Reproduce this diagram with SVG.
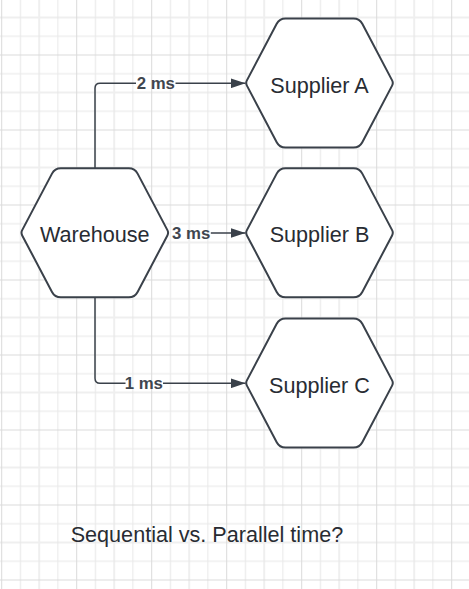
<svg xmlns="http://www.w3.org/2000/svg" width="469" height="589" viewBox="0 0 469 589">
  <style>
    .hex { fill: #ffffff; stroke: #3a414a; stroke-width: 2; stroke-linejoin: round; }
    .node-text { font-family: "Liberation Sans", Arial, sans-serif; font-size: 21.6px; fill: #282c33; text-anchor: middle; }
    .edge { fill: none; stroke: #3a414a; stroke-width: 1.5; }
    .edge-label { font-family: "Liberation Sans", Arial, sans-serif; font-size: 16.8px; font-weight: bold; fill: #3f464f; text-anchor: middle; }
    .title { font-family: "Liberation Sans", Arial, sans-serif; font-size: 21.6px; fill: #282c33; }
  </style>
  <defs>
    <pattern id="grid" x="1.2" y="54.5" width="75" height="75" patternUnits="userSpaceOnUse">
      <rect x="0" y="37" width="75" height="2" fill="#efefef"/>
      <rect x="37" y="0" width="2" height="75" fill="#efefef"/>
      <rect x="0" y="18.75" width="75" height="1" fill="#e8e8e8"/>
      <rect x="0" y="56.25" width="75" height="1" fill="#e8e8e8"/>
      <rect x="18.75" y="0" width="1" height="75" fill="#e8e8e8"/>
      <rect x="56.25" y="0" width="1" height="75" fill="#e8e8e8"/>
      <rect x="0" y="0" width="75" height="1" fill="#dadada"/>
      <rect x="0" y="0" width="1" height="75" fill="#dadada"/>
    </pattern>
    <path id="hexshape" d="M -72.6,-2.65 L -42.8,-59.19 Q -40,-64.5 -34,-64.5 L 34,-64.5 Q 40,-64.5 42.8,-59.19 L 72.6,-2.65 Q 74,0 72.6,2.65 L 42.8,59.19 Q 40,64.5 34,64.5 L -34,64.5 Q -40,64.5 -42.8,59.19 L -72.6,2.65 Q -74,0 -72.6,-2.65 Z"/>
    <marker id="arrow" markerUnits="userSpaceOnUse" markerWidth="15" markerHeight="10" refX="15" refY="5" orient="auto">
      <path d="M0,0 L15,5 L0,10 Z" fill="#3a414a"/>
    </marker>
  </defs>

  <rect x="0" y="0" width="469" height="589" fill="#ffffff"/>
  <rect x="0" y="0" width="469" height="589" fill="url(#grid)"/>

  <g id="connectors">
    <g id="edge-a">
      <path class="edge" d="M95,168.3 V88.3 Q95,83.3 100,83.3 H136"/>
      <path class="edge" d="M175.5,83.3 H245.5" marker-end="url(#arrow)"/>
      <text class="edge-label" x="155.8" y="89.3">2 ms</text>
    </g>
    <g id="edge-b">
      <path class="edge" d="M210.8,233 H245.5" marker-end="url(#arrow)"/>
      <text class="edge-label" x="191.2" y="239">3 ms</text>
    </g>
    <g id="edge-c">
      <path class="edge" d="M95,297.3 V378.3 Q95,383.3 100,383.3 H125.5"/>
      <path class="edge" d="M163,383.3 H245.5" marker-end="url(#arrow)"/>
      <text class="edge-label" x="143.8" y="389.3">1 ms</text>
    </g>
  </g>

  <g id="warehouse">
    <use href="#hexshape" class="hex" transform="translate(94.8,232.8)"/>
    <text class="node-text" x="94.8" y="241.5">Warehouse</text>
  </g>
  <g id="supplier-a">
    <use href="#hexshape" class="hex" transform="translate(319.5,83)"/>
    <text class="node-text" x="319.5" y="92.5">Supplier A</text>
  </g>
  <g id="supplier-b">
    <use href="#hexshape" class="hex" transform="translate(319.5,232.8)"/>
    <text class="node-text" x="319.5" y="241.5">Supplier B</text>
  </g>
  <g id="supplier-c">
    <use href="#hexshape" class="hex" transform="translate(319.5,383)"/>
    <text class="node-text" x="319.5" y="392.7">Supplier C</text>
  </g>

  <g id="title">
    <text class="title" x="70.7" y="541.7">Sequential vs. Parallel time?</text>
  </g>
</svg>
